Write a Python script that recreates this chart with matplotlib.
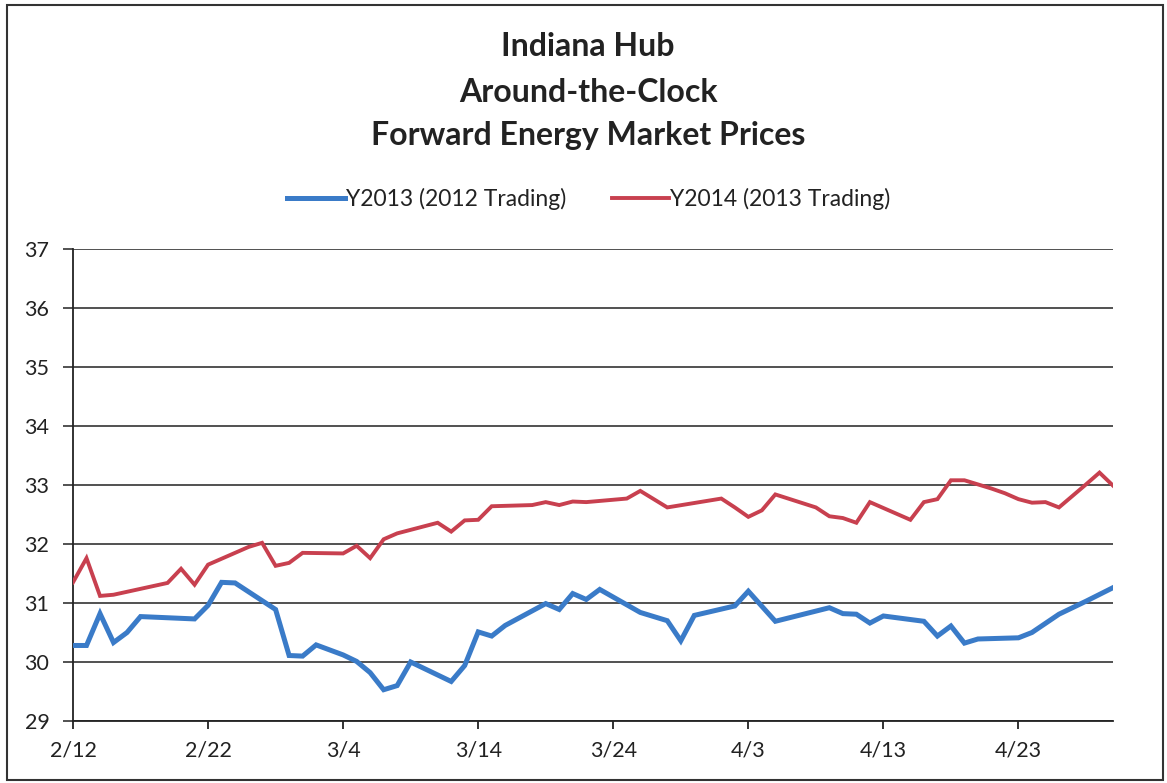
import matplotlib
matplotlib.use("Agg")
import matplotlib.pyplot as plt
import matplotlib.dates as mdates
from matplotlib.patches import Rectangle
import datetime as dt

start = dt.date(2013, 2, 12)

# day offsets from 2/12 and prices
y2013_days = [0, 1, 2, 3, 4, 5, 9, 10, 11, 12, 15, 16, 17, 18, 20, 21, 22, 23, 24, 25,
              28, 29, 30, 31, 32, 35, 36, 37, 38, 39, 42, 44, 45, 46, 49, 50, 52, 56,
              57, 58, 59, 60, 63, 64, 65, 66, 67, 70, 71, 73, 75, 77]
y2013_vals = [30.28, 30.28, 30.82, 30.33, 30.50, 30.77, 30.73, 30.96, 31.35, 31.34,
              30.89, 30.11, 30.10, 30.29, 30.12, 30.01, 29.82, 29.53, 29.60, 30.00,
              29.67, 29.94, 30.51, 30.44, 30.62, 30.99, 30.89, 31.16, 31.06, 31.23,
              30.84, 30.70, 30.36, 30.79, 30.95, 31.20, 30.69, 30.92, 30.82, 30.81,
              30.66, 30.78, 30.69, 30.44, 30.61, 30.32, 30.39, 30.41, 30.50, 30.81,
              31.03, 31.26]

y2014_days = [0, 1, 2, 3, 7, 8, 9, 10, 13, 14, 15, 16, 17, 20, 21, 22, 23, 24, 27, 28,
              29, 30, 31, 34, 35, 36, 37, 38, 41, 42, 44, 48, 49, 50, 51, 52, 55, 56,
              57, 58, 59, 62, 63, 64, 65, 66, 68, 69, 70, 71, 72, 73, 75, 76, 77]
y2014_vals = [31.35, 31.76, 31.12, 31.14, 31.34, 31.58, 31.31, 31.65, 31.95, 32.02,
              31.63, 31.68, 31.85, 31.84, 31.97, 31.76, 32.08, 32.18, 32.36, 32.21,
              32.40, 32.41, 32.64, 32.66, 32.71, 32.66, 32.72, 32.71, 32.77, 32.90,
              32.62, 32.77, 32.62, 32.46, 32.57, 32.84, 32.62, 32.47, 32.44, 32.36,
              32.71, 32.41, 32.71, 32.76, 33.08, 33.08, 32.94, 32.86, 32.76, 32.70,
              32.71, 32.62, 33.01, 33.21, 32.99]

series_labels = ["Y2013 (2012 Trading)", "Y2014 (2013 Trading)"]
title_lines = ["Indiana Hub", "Around-the-Clock", "Forward Energy Market Prices"]
y_ticks = [29, 30, 31, 32, 33, 34, 35, 36, 37]
x_tick_labels = ["2/12", "2/22", "3/4", "3/14", "3/24", "4/3", "4/13", "4/23"]

def to_dates(days):
    return [start + dt.timedelta(days=d) for d in days]

plt.rcParams['font.family'] = ['Lato', 'DejaVu Sans']

fig = plt.figure(figsize=(11.67, 7.83), dpi=100)
W, H = 1167, 783
ax = fig.add_axes([73 / W, 1 - 721 / H, (1113 - 73) / W, (721 - 249) / H])

blue = '#3a7bc8'
red = '#c8404f'
l1, = ax.plot(to_dates(y2013_days), y2013_vals, color=blue, lw=3.6,
              solid_joinstyle='miter', label=series_labels[0], zorder=3)
l2, = ax.plot(to_dates(y2014_days), y2014_vals, color=red, lw=2.8,
              solid_joinstyle='miter', label=series_labels[1], zorder=3)

ax.set_ylim(29, 37)
ax.set_yticks(y_ticks)
ax.set_yticklabels([str(t) for t in y_ticks])
xt = [start + dt.timedelta(days=10 * i) for i in range(len(x_tick_labels))]
ax.set_xticks(xt)
ax.set_xticklabels(x_tick_labels)
ax.set_xlim(start, start + dt.timedelta(days=77))

ax.grid(axis='y', color='#222222', lw=1.1)
ax.set_axisbelow(True)
for s in ['top', 'right']:
    ax.spines[s].set_visible(False)
for s in ['left', 'bottom']:
    ax.spines[s].set_color('#222222')
    ax.spines[s].set_linewidth(1.3)
ax.tick_params(axis='x', direction='out', length=6, width=1.3, color='#222222',
               labelsize=15.5, pad=8, labelcolor='#222222')
ax.tick_params(axis='y', direction='out', length=7, width=1.1, color='#222222',
               labelsize=15.5, pad=10, labelcolor='#222222')

# titles
ys = [47, 92, 135]
for t, yy in zip(title_lines, ys):
    fig.text(588 / W, 1 - yy / H, t, ha='center', va='center', fontsize=23,
             fontweight='bold', color='#222222')

leg = fig.legend(handles=[l1, l2], loc='center', bbox_to_anchor=(589 / W, 1 - 199 / H),
                 ncol=2, frameon=False, fontsize=16.5, handlelength=2.5,
                 handletextpad=0.05, columnspacing=2.0)
for t in leg.get_texts():
    t.set_color('#222222')

fig.patches.append(Rectangle((7 / W, 1 - 780 / H), (1163 - 7) / W, (780 - 5) / H,
                             transform=fig.transFigure, fill=False,
                             edgecolor='#333333', lw=1.5))

fig.savefig('out.png', dpi=100)
